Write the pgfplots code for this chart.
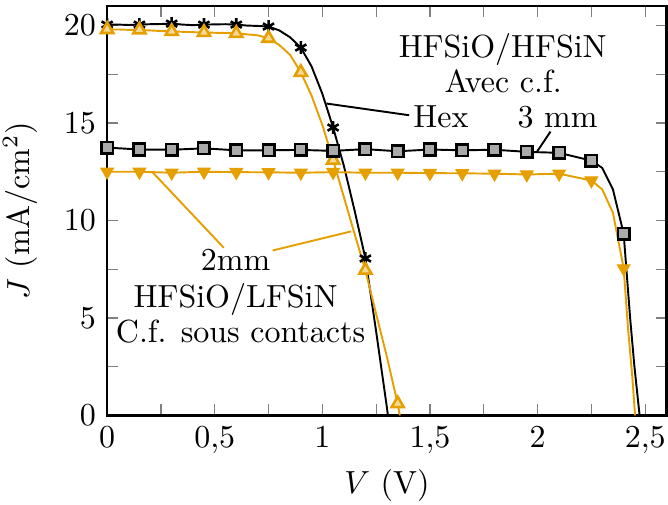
\documentclass[border=0pt]{standalone}
\usepackage{pgfplots}
\pgfplotsset{compat=1.18}
\definecolor{orng}{HTML}{E69F00}
\definecolor{sq}{HTML}{AAAAAA}

\begin{document}
\begin{tikzpicture}
\begin{axis}[
  scale only axis,
  width=175pt,
  height=128pt,
  xmin=0, xmax=2.6,
  ymin=0, ymax=21,
  xtick={0,0.5,1,1.5,2,2.5},
  ytick={0,5,10,15,20},
  minor x tick num=1,
  minor y tick num=1,
  /pgf/number format/use comma,
  tick style={gray, thin},
  major tick length=3.5pt,
  minor tick length=3.5pt,
  axis line style={black, line width=0.8pt},
  xlabel={$V$ (V)},
  ylabel={$J$ (mA/cm$^2$)},
  xlabel style={inner sep=0pt, yshift=-1.5pt},
  ylabel style={yshift=1.5pt},
  clip=true,
]
% Hex, avec c.f.
\addplot[black, semithick, mark=asterisk, mark repeat=3, mark size=2pt, mark options={thick}] coordinates {
  (0,20.05) (0.05,20.05) (0.1,20.03) (0.15,20.05) (0.2,20.07) (0.25,20.08)
  (0.3,20.1) (0.35,20.05) (0.4,20.02) (0.45,20.05) (0.5,20.06) (0.55,20.07)
  (0.6,20.05) (0.65,20.0) (0.7,19.98) (0.75,19.95) (0.8,19.75) (0.85,19.4)
  (0.9,18.87) (0.95,17.9) (1.0,16.5) (1.05,14.77) (1.1,12.8) (1.15,10.5)
  (1.2,8.05) (1.25,4.3) (1.3,0.4) (1.31,-0.5)
};
% 2mm, C.f. sous contacts
\addplot[orng, semithick, mark=triangle*, mark repeat=3, mark size=2.2pt, mark options={fill=orng!40, draw=orng, thick}] coordinates {
  (0,19.8) (0.05,19.8) (0.1,19.78) (0.15,19.78) (0.2,19.75) (0.25,19.72)
  (0.3,19.7) (0.35,19.68) (0.4,19.66) (0.45,19.65) (0.5,19.63) (0.55,19.62)
  (0.6,19.6) (0.65,19.55) (0.7,19.5) (0.75,19.35) (0.8,19.0) (0.85,18.5)
  (0.9,17.6) (0.95,16.4) (1.0,14.9) (1.05,13.1) (1.1,11.2) (1.15,9.3)
  (1.2,7.45) (1.25,5.2) (1.3,3.0) (1.35,0.6) (1.36,0.0)
};
% 3 mm, avec c.f.
\addplot[black, semithick, no marks] coordinates {
  (0,13.74) (0.15,13.64) (0.3,13.63) (0.45,13.7) (0.6,13.6) (0.75,13.6)
  (0.9,13.62) (1.05,13.57) (1.2,13.66) (1.35,13.55) (1.5,13.64) (1.65,13.6)
  (1.8,13.63) (1.95,13.52) (2.1,13.47) (2.25,13.07) (2.3,12.7) (2.35,11.6)
  (2.4,9.32) (2.43,5.0) (2.45,2.5) (2.474,0)
};
\addplot[only marks, mark=square*, mark size=1.8pt, mark options={fill=sq, draw=black, thick}] coordinates {
  (0,13.74) (0.15,13.64) (0.3,13.63) (0.45,13.7) (0.6,13.6) (0.75,13.6)
  (0.9,13.62) (1.05,13.57) (1.2,13.66) (1.35,13.55) (1.5,13.64) (1.65,13.6)
  (1.8,13.63) (1.95,13.52) (2.1,13.47) (2.25,13.07) (2.4,9.32)
};
% 2mm, sous contacts
\addplot[orng, semithick, no marks] coordinates {
  (0,12.5) (0.15,12.5) (0.3,12.45) (0.45,12.5) (0.6,12.48) (0.75,12.47)
  (0.9,12.45) (1.05,12.48) (1.2,12.45) (1.35,12.45) (1.5,12.43) (1.65,12.42)
  (1.8,12.4) (1.95,12.36) (2.1,12.4) (2.25,12.05) (2.3,11.6) (2.35,10.4)
  (2.4,7.54) (2.42,4.5) (2.44,2.0) (2.453,0)
};
\addplot[only marks, orng, mark=triangle*, mark size=2.2pt, mark options={rotate=180}] coordinates {
  (0,12.5) (0.15,12.5) (0.3,12.45) (0.45,12.5) (0.6,12.48) (0.75,12.47)
  (0.9,12.45) (1.05,12.48) (1.2,12.45) (1.35,12.45) (1.5,12.43) (1.65,12.42)
  (1.8,12.4) (1.95,12.36) (2.1,12.4) (2.25,12.05) (2.4,7.54)
};

% annotations
\node[anchor=base] at (axis cs:1.838,18.36) {HFSiO/HFSiN};
\node[anchor=base] at (axis cs:1.84,16.56) {Avec c.f.};
\node[anchor=base] at (axis cs:1.551,14.77) {Hex};
\node[anchor=base] at (axis cs:2.093,14.77) {3 mm};
\draw[black, semithick] (axis cs:1.019,16.0) -- (axis cs:1.403,15.4);
\draw[black, semithick] (axis cs:2.06,14.56) -- (axis cs:1.995,13.49);
\node[anchor=base] at (axis cs:0.597,7.44) {2mm};
\node[anchor=base] at (axis cs:0.597,5.54) {HFSiO/LFSiN};
\node[anchor=base] at (axis cs:0.62,3.74) {C.f. sous contacts};
\draw[orng, semithick] (axis cs:0.208,12.51) -- (axis cs:0.542,8.6);
\draw[orng, semithick] (axis cs:0.769,8.46) -- (axis cs:1.134,9.44);
\end{axis}
\pgfresetboundingbox
\path[use as bounding box] ([xshift=-33.5pt,yshift=-27.9pt]current axis.south west) rectangle ([xshift=0.4pt,yshift=1.9pt]current axis.north east);
\end{tikzpicture}
\end{document}
